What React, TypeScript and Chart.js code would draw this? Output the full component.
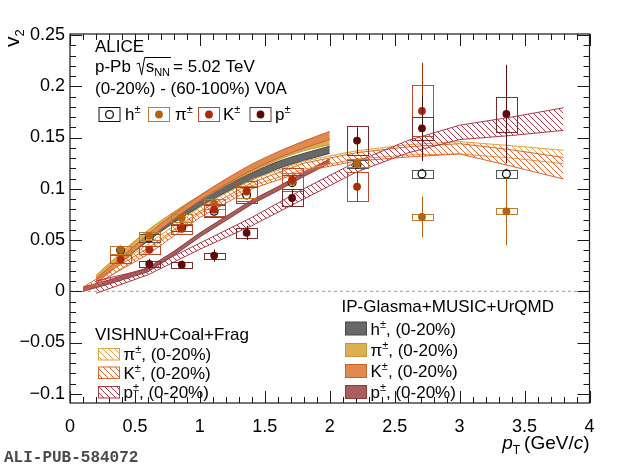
import React, { useEffect, useRef } from "react";
import { Chart, registerables } from "chart.js";

Chart.register(...registerables);

const FONT = '"Liberation Sans", Arial, Helvetica, sans-serif';

// ---------------- measured data ----------------
const H_PT = [0.39, 0.61, 0.86, 1.11, 1.36, 1.71, 2.21, 2.71, 3.36];
const H_V2 = [0.040, 0.052, 0.062, 0.078, 0.094, 0.106, 0.124, 0.1145, 0.1145];
const H_STAT = [0.001, 0.001, 0.001, 0.001, 0.002, 0.002, 0.003, 0.005, 0.005];
const H_SYS = [0.004, 0.004, 0.003, 0.006, 0.008, 0.007, 0.004, 0.004, 0.004];

const PI_PT = [0.39, 0.61, 0.86, 1.11, 1.36, 1.71, 2.21, 2.71, 3.36];
const PI_V2 = [0.0405, 0.054, 0.0715, 0.0855, 0.097, 0.107, 0.125, 0.0725, 0.078];
const PI_STAT = [0.002, 0.002, 0.002, 0.002, 0.003, 0.004, 0.005, 0.02, 0.033];
const PI_SYS = [0.004, 0.004, 0.004, 0.005, 0.006, 0.008, 0.004, 0.003, 0.003];

const K_PT = [0.39, 0.61, 0.86, 1.11, 1.36, 1.71, 2.21, 2.71];
const K_V2 = [0.031, 0.0406, 0.061, 0.0796, 0.098, 0.109, 0.102, 0.176];
const K_STAT = [0.002, 0.002, 0.003, 0.003, 0.004, 0.005, 0.015, 0.047];
const K_SYS = [0.004, 0.004, 0.005, 0.006, 0.010, 0.011, 0.014, 0.025];

const P_PT = [0.61, 0.86, 1.11, 1.36, 1.71, 2.21, 2.71, 3.36];
const P_V2 = [0.0267, 0.026, 0.0348, 0.057, 0.091, 0.147, 0.159, 0.173];
const P_STAT = [0.005, 0.004, 0.006, 0.007, 0.008, 0.013, 0.032, 0.048];
const P_SYS = [0.003, 0.003, 0.003, 0.005, 0.0085, 0.014, 0.011, 0.017];

// ---------------- model bands ----------------
const IPG_H_PT = [0.3, 0.4, 0.6, 0.8, 1.0, 1.2, 1.4, 1.6, 1.8, 2.0];
const IPG_H_V2 = [0.022, 0.032, 0.052, 0.070, 0.086, 0.100, 0.112, 0.123, 0.131, 0.138];
const IPG_H_ERR = [0.003, 0.003, 0.003, 0.003, 0.0035, 0.0035, 0.0035, 0.0035, 0.0035, 0.0035];

const IPG_PI_PT = [0.2, 0.4, 0.6, 0.8, 1.0, 1.2, 1.4, 1.6, 1.8, 2.0];
const IPG_PI_V2 = [0.013, 0.036, 0.057, 0.075, 0.091, 0.106, 0.119, 0.131, 0.140, 0.146];
const IPG_PI_ERR = [0.0025, 0.0025, 0.0025, 0.0025, 0.0025, 0.0025, 0.0025, 0.003, 0.003, 0.003];

const IPG_K_PT = [0.2, 0.4, 0.6, 0.8, 1.0, 1.2, 1.4, 1.6, 1.8, 2.0];
const IPG_K_V2 = [0.010, 0.031, 0.053, 0.073, 0.091, 0.107, 0.121, 0.133, 0.143, 0.152];
const IPG_K_ERR = [0.0025, 0.0025, 0.0025, 0.0025, 0.0025, 0.0025, 0.003, 0.003, 0.0035, 0.004];

const IPG_P_PT = [0.1, 0.3, 0.6, 0.8, 1.0, 1.2, 1.4, 1.6, 1.8, 2.0];
const IPG_P_V2 = [0.002, 0.009, 0.021, 0.037, 0.055, 0.071, 0.087, 0.100, 0.114, 0.127];
const IPG_P_ERR = [0.002, 0.002, 0.002, 0.002, 0.002, 0.002, 0.002, 0.002, 0.002, 0.002];

const VIS_PI_PT = [0.2, 0.6, 1.0, 1.4, 1.8, 2.2, 2.6, 3.0, 3.4, 3.8];
const VIS_PI_V2 = [0.008, 0.043, 0.079, 0.106, 0.123, 0.133, 0.138, 0.140, 0.136, 0.131];
const VIS_PI_ERR = [0.003, 0.003, 0.003, 0.003, 0.004, 0.004, 0.005, 0.006, 0.006, 0.0065];

const VIS_K_PT = [0.1, 0.6, 1.0, 1.4, 1.8, 2.2, 2.6, 3.0, 3.4, 3.8];
const VIS_K_V2 = [0.002, 0.039, 0.075, 0.103, 0.121, 0.131, 0.136, 0.139, 0.130, 0.120];
const VIS_K_ERR = [0.002, 0.003, 0.003, 0.003, 0.004, 0.004, 0.005, 0.005, 0.008, 0.0105];

const VIS_P_PT = [0.2, 0.6, 1.0, 1.4, 1.8, 2.2, 2.6, 3.0, 3.4, 3.8];
const VIS_P_V2 = [0.004, 0.019, 0.044, 0.068, 0.095, 0.121, 0.141, 0.155, 0.161, 0.168];
const VIS_P_ERR = [0.006, 0.003, 0.003, 0.004, 0.005, 0.005, 0.006, 0.007, 0.009, 0.011];

// axis
const X_MIN = 0;
const X_MAX = 4;
const Y_MIN = -0.109;
const Y_MAX = 0.251;
const X_STEP = 0.5;
const Y_STEP = 0.05;
const BOX_HALF = 0.08;

// colours
const C_H = "#111111";
const C_H_BOX = "#555555";
const C_PI = "#b5620e";
const C_PI_BOX = "#c27a30";
const C_K = "#b02a08";
const C_K_BOX = "#c04a2c";
const C_P = "#5c0a0a";
const C_P_BOX = "#7c2c2c";

const IPG_H_FILL = "#686868";
const IPG_H_LINE = "#474747";
const IPG_PI_FILL = "#dcb052";
const IPG_PI_LINE = "#c8952e";
const IPG_K_FILL = "#e08a52";
const IPG_K_LINE = "#c8622a";
const IPG_P_FILL = "#aa5e5e";
const IPG_P_LINE = "#8e3c3c";

const VIS_PI_COL = "#e0a040";
const VIS_K_COL = "#dc6634";
const VIS_P_COL = "#a83c4a";

function makeHatch(color: string) {
  const c = document.createElement("canvas");
  c.width = 6;
  c.height = 6;
  const g = c.getContext("2d")!;
  g.strokeStyle = color;
  g.lineWidth = 1;
  g.beginPath();
  g.moveTo(0, 0);
  g.lineTo(6, 6);
  g.moveTo(-1, 5);
  g.lineTo(1, 7);
  g.moveTo(5, -1);
  g.lineTo(7, 1);
  g.stroke();
  return g.createPattern(c, "repeat")!;
}

function bandDatasets(pt: number[], v2: number[], err: number[], line: string, fill: any, order: number, smooth: boolean) {
  const common = {
    type: "line",
    borderColor: line,
    borderWidth: 1,
    pointRadius: 0,
    tension: 0,
    cubicInterpolationMode: smooth ? "monotone" : "default",
    order,
  };
  return [
    { ...common, data: pt.map((x, i) => ({ x, y: v2[i] + err[i] })), fill: false },
    { ...common, data: pt.map((x, i) => ({ x, y: v2[i] - err[i] })), fill: "-1", backgroundColor: fill },
  ];
}

function pointDataset(pt: number[], v2: number[], stat: number[], sys: number[], col: string, boxCol: string, open: boolean, order: number) {
  return {
    type: "scatter",
    data: pt.map((x, i) => ({ x, y: v2[i] })),
    pointRadius: 3.9,
    pointHoverRadius: 3.9,
    pointBorderWidth: open ? 1.3 : 0,
    pointBackgroundColor: open ? "#ffffff" : col,
    pointBorderColor: col,
    showLine: false,
    order,
    errStat: stat,
    errSys: sys,
    errColor: col,
    boxColor: boxCol,
  };
}

const errorBarPlugin = {
  id: "errorBars",
  beforeDatasetDraw(chart: any, args: any) {
    const ds = chart.data.datasets[args.index];
    if (!ds.errStat) return;
    const { ctx, scales } = chart;
    const xs = scales.x;
    const ys = scales.y;
    ctx.save();
    ctx.lineWidth = 1;
    ds.data.forEach((p: any, i: number) => {
      const x0 = xs.getPixelForValue(p.x - BOX_HALF);
      const x1 = xs.getPixelForValue(p.x + BOX_HALF);
      const yt = ys.getPixelForValue(p.y + ds.errSys[i]);
      const yb = ys.getPixelForValue(p.y - ds.errSys[i]);
      ctx.strokeStyle = ds.boxColor;
      ctx.strokeRect(Math.round(x0) + 0.5, Math.round(yt) + 0.5, Math.round(x1 - x0), Math.max(2, Math.round(yb - yt)));
      const xc = Math.round(xs.getPixelForValue(p.x)) + 0.5;
      ctx.strokeStyle = ds.errColor;
      ctx.beginPath();
      ctx.moveTo(xc, ys.getPixelForValue(p.y + ds.errStat[i]));
      ctx.lineTo(xc, ys.getPixelForValue(p.y - ds.errStat[i]));
      ctx.stroke();
    });
    ctx.restore();
  },
};

function setFont(ctx: CanvasRenderingContext2D, size: number, italic = false) {
  ctx.font = `${italic ? "italic " : ""}${size}px ${FONT}`;
}

// draws a sequence of text runs; returns end x
function rich(ctx: CanvasRenderingContext2D, x: number, y: number, runs: any[]) {
  let cx = x;
  for (const r of runs) {
    setFont(ctx, r.size, r.italic);
    ctx.fillStyle = r.color || "#000";
    ctx.fillText(r.t, cx, y + (r.dy || 0));
    cx += ctx.measureText(r.t).width + (r.gap || 0);
  }
  return cx;
}

function richWidth(ctx: CanvasRenderingContext2D, runs: any[]) {
  let w = 0;
  for (const r of runs) {
    setFont(ctx, r.size, r.italic);
    w += ctx.measureText(r.t).width + (r.gap || 0);
  }
  return w;
}

function particleRuns(sym: string, tail: string) {
  return [
    { t: sym, size: 17 },
    { t: "\u00b1", size: 11, dy: -7 },
    { t: tail, size: 17 },
  ];
}

const overlayPlugin = {
  id: "overlay",
  afterDraw(chart: any) {
    const { ctx, chartArea, scales } = chart;
    const { left, right, top, bottom } = chartArea;
    const xs = scales.x;
    const ys = scales.y;
    ctx.save();

    // frame
    ctx.strokeStyle = "#1a1a1a";
    ctx.lineWidth = 1.2;
    ctx.strokeRect(left, top, right - left, bottom - top);

    // ticks
    ctx.lineWidth = 1;
    ctx.beginPath();
    for (let i = 0; i <= 40; i++) {
      const v = X_MIN + i * 0.1;
      const px = Math.round(xs.getPixelForValue(v)) + 0.5;
      const len = i % 5 === 0 ? 12 : 6;
      ctx.moveTo(px, bottom);
      ctx.lineTo(px, bottom - len);
      ctx.moveTo(px, top);
      ctx.lineTo(px, top + len);
    }
    for (let i = -10; i <= 25; i++) {
      const v = i * 0.01;
      const py = Math.round(ys.getPixelForValue(v)) + 0.5;
      const len = i % 5 === 0 ? 12 : 6;
      ctx.moveTo(left, py);
      ctx.lineTo(left + len, py);
      ctx.moveTo(right, py);
      ctx.lineTo(right - len, py);
    }
    ctx.stroke();

    ctx.textBaseline = "alphabetic";
    ctx.textAlign = "left";

    // y title
    ctx.save();
    ctx.translate(18.5, 47);
    ctx.rotate(-Math.PI / 2);
    rich(ctx, 0, 0, [
      { t: "v", size: 21 },
      { t: "2", size: 13, dy: 5 },
    ]);
    ctx.restore();

    // x title
    const xRuns = [
      { t: "p", size: 19, italic: true },
      { t: "T", size: 12, dy: 5, gap: 4 },
      { t: "(GeV/", size: 19 },
      { t: "c", size: 19, italic: true },
      { t: ")", size: 19 },
    ];
    const xw = richWidth(ctx, xRuns);
    rich(ctx, right - xw, 449, xRuns);

    // ALICE block
    rich(ctx, 95, 51.5, [{ t: "ALICE", size: 17 }]);
    const ex = rich(ctx, 95, 71.5, [{ t: "p-Pb ", size: 17 }]);
    // radical sign
    const rx = ex + 1;
    const sEnd = rich(ctx, rx + 9, 71.5, [
      { t: "s", size: 17 },
      { t: "NN", size: 11, dy: 4 },
    ]);
    ctx.strokeStyle = "#000";
    ctx.lineWidth = 1;
    ctx.beginPath();
    ctx.moveTo(rx, 64);
    ctx.lineTo(rx + 2.5, 63);
    ctx.lineTo(rx + 5, 75);
    ctx.lineTo(rx + 8, 57.5);
    ctx.lineTo(sEnd + 1, 57.5);
    ctx.stroke();
    rich(ctx, sEnd + 3, 71.5, [{ t: "= 5.02 TeV", size: 17 }]);
    rich(ctx, 95, 94, [{ t: "(0-20%) - (60-100%) V0A", size: 17 }]);

    // top legend
    const topItems = [
      { x: 98.5, sym: "h", col: C_H, box: C_H, open: true, tx: 125 },
      { x: 148, sym: "\u03c0", col: C_PI, box: C_PI_BOX, open: false, tx: 175 },
      { x: 198, sym: "K", col: C_K, box: C_K_BOX, open: false, tx: 223 },
      { x: 249.5, sym: "p", col: C_P, box: C_P_BOX, open: false, tx: 275 },
    ];
    for (const it of topItems) {
      ctx.strokeStyle = it.box;
      ctx.lineWidth = 1;
      ctx.strokeRect(it.x + 0.5, 107.5, 21, 14);
      ctx.beginPath();
      ctx.arc(it.x + 11, 114.5, 3.9, 0, Math.PI * 2);
      if (it.open) {
        ctx.fillStyle = "#fff";
        ctx.fill();
        ctx.strokeStyle = it.col;
        ctx.lineWidth = 1.3;
        ctx.stroke();
      } else {
        ctx.fillStyle = it.col;
        ctx.fill();
      }
      rich(ctx, it.tx, 120, particleRuns(it.sym, ""));
    }

    // VISHNU legend
    rich(ctx, 95, 340, [{ t: "VISHNU+Coal+Frag", size: 17 }]);
    const visItems = [
      { sym: "\u03c0", col: VIS_PI_COL, top: 348.5, base: 360 },
      { sym: "K", col: VIS_K_COL, top: 367, base: 379 },
      { sym: "p", col: VIS_P_COL, top: 386.5, base: 398 },
    ];
    for (const it of visItems) {
      ctx.fillStyle = makeHatch(it.col);
      ctx.fillRect(98.5, it.top, 21, 11.5);
      ctx.strokeStyle = it.col;
      ctx.lineWidth = 1;
      ctx.strokeRect(98.5, it.top, 21, 11.5);
      rich(ctx, 123.5, it.base, particleRuns(it.sym, ", (0-20%)"));
    }

    // IP-Glasma legend
    rich(ctx, 341.5, 311.5, [{ t: "IP-Glasma+MUSIC+UrQMD", size: 17 }]);
    const ipgItems = [
      { sym: "h", fill: IPG_H_FILL, line: IPG_H_LINE, top: 322, base: 335 },
      { sym: "\u03c0", fill: IPG_PI_FILL, line: IPG_PI_LINE, top: 343.5, base: 356 },
      { sym: "K", fill: IPG_K_FILL, line: IPG_K_LINE, top: 364.5, base: 377 },
      { sym: "p", fill: IPG_P_FILL, line: IPG_P_LINE, top: 385.5, base: 398 },
    ];
    for (const it of ipgItems) {
      ctx.fillStyle = it.fill;
      ctx.fillRect(345.5, it.top, 21, 13);
      ctx.strokeStyle = it.line;
      ctx.lineWidth = 1;
      ctx.strokeRect(345.5, it.top, 21, 13);
      rich(ctx, 370.5, it.base, particleRuns(it.sym, ", (0-20%)"));
    }

    // publication tag
    ctx.font = `bold 16px "Liberation Mono", "DejaVu Sans Mono", monospace`;
    ctx.fillStyle = "#4a4a4a";
    ctx.fillText("ALI-PUB-584072", 4, 462);

    ctx.restore();
  },
};

function fmtTick(v: number) {
  const n = Math.round(v * 1000) / 1000;
  if (n === 0) return "0";
  return (n < 0 ? "\u2212" : "") + String(Math.abs(n));
}

export default function App() {
  const ref = useRef<HTMLCanvasElement | null>(null);

  useEffect(() => {
    if (!ref.current) return;
    const datasets: any[] = [];
    // zero line
    datasets.push({
      type: "line",
      data: [
        { x: X_MIN, y: 0 },
        { x: X_MAX, y: 0 },
      ],
      borderColor: "#9a9a9a",
      borderWidth: 1,
      borderDash: [3, 3],
      pointRadius: 0,
      fill: false,
      order: 100,
    });
    // IP-Glasma bands (solid)
    datasets.push(...bandDatasets(IPG_H_PT, IPG_H_V2, IPG_H_ERR, IPG_H_LINE, IPG_H_FILL, 60, true));
    datasets.push(...bandDatasets(IPG_PI_PT, IPG_PI_V2, IPG_PI_ERR, IPG_PI_LINE, IPG_PI_FILL, 59, true));
    datasets.push(...bandDatasets(IPG_K_PT, IPG_K_V2, IPG_K_ERR, IPG_K_LINE, IPG_K_FILL, 58, true));
    datasets.push(...bandDatasets(IPG_P_PT, IPG_P_V2, IPG_P_ERR, IPG_P_LINE, IPG_P_FILL, 57, false));
    // VISHNU bands (hatched)
    datasets.push(...bandDatasets(VIS_PI_PT, VIS_PI_V2, VIS_PI_ERR, VIS_PI_COL, makeHatch(VIS_PI_COL), 40, false));
    datasets.push(...bandDatasets(VIS_K_PT, VIS_K_V2, VIS_K_ERR, VIS_K_COL, makeHatch(VIS_K_COL), 39, false));
    datasets.push(...bandDatasets(VIS_P_PT, VIS_P_V2, VIS_P_ERR, VIS_P_COL, makeHatch(VIS_P_COL), 38, false));
    // data points
    datasets.push(pointDataset(H_PT, H_V2, H_STAT, H_SYS, C_H, C_H_BOX, true, 4));
    datasets.push(pointDataset(PI_PT, PI_V2, PI_STAT, PI_SYS, C_PI, C_PI_BOX, false, 3));
    datasets.push(pointDataset(K_PT, K_V2, K_STAT, K_SYS, C_K, C_K_BOX, false, 2));
    datasets.push(pointDataset(P_PT, P_V2, P_STAT, P_SYS, C_P, C_P_BOX, false, 1));

    const chart = new Chart(ref.current, {
      type: "scatter",
      data: { datasets },
      options: {
        responsive: false,
        maintainAspectRatio: false,
        animation: false,
        events: [],
        layout: { padding: { left: 0, right: 30.5, top: 34, bottom: 0 } },
        plugins: {
          legend: { display: false },
          tooltip: { enabled: false },
        },
        scales: {
          x: {
            type: "linear",
            min: X_MIN,
            max: X_MAX,
            grid: { display: false, drawTicks: false },
            border: { display: false },
            ticks: {
              stepSize: X_STEP,
              includeBounds: false,
              autoSkip: false,
              maxRotation: 0,
              padding: 13,
              color: "#000",
              font: { family: FONT, size: 18 },
              callback: (v: any) => fmtTick(Number(v)),
            },
            afterFit: (s: any) => {
              s.height = 64;
            },
          },
          y: {
            type: "linear",
            min: Y_MIN,
            max: Y_MAX,
            grid: { display: false, drawTicks: false },
            border: { display: false },
            ticks: {
              stepSize: Y_STEP,
              includeBounds: false,
              autoSkip: false,
              padding: 5,
              color: "#000",
              font: { family: FONT, size: 18 },
              callback: (v: any) => fmtTick(Number(v)),
            },
            afterFit: (s: any) => {
              s.width = 70;
            },
          },
        },
      } as any,
      plugins: [errorBarPlugin, overlayPlugin],
    } as any);
    return () => chart.destroy();
  }, []);

  return (
    <div style={{ position: "absolute", left: 0, top: 0, width: 620, height: 467, background: "#fff" }}>
      <canvas ref={ref} width={620} height={467} style={{ display: "block", width: 620, height: 467 }} />
    </div>
  );
}
